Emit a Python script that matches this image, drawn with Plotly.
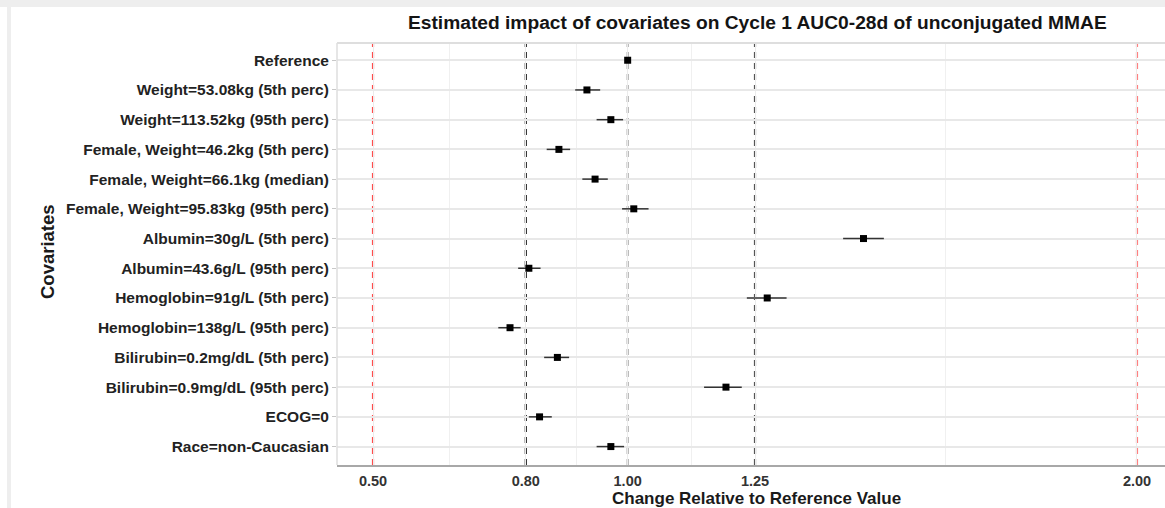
import plotly.graph_objects as go

# Covariate scenarios (top to bottom)
covariates = [
    "Reference",
    "Weight=53.08kg (5th perc)",
    "Weight=113.52kg (95th perc)",
    "Female, Weight=46.2kg (5th perc)",
    "Female, Weight=66.1kg (median)",
    "Female, Weight=95.83kg (95th perc)",
    "Albumin=30g/L (5th perc)",
    "Albumin=43.6g/L (95th perc)",
    "Hemoglobin=91g/L (5th perc)",
    "Hemoglobin=138g/L (95th perc)",
    "Bilirubin=0.2mg/dL (5th perc)",
    "Bilirubin=0.9mg/dL (95th perc)",
    "ECOG=0",
    "Race=non-Caucasian",
]

# Ratio to reference (median) and uncertainty interval
ratio_median = [1.000, 0.920, 0.967, 0.865, 0.936, 1.012, 1.463, 0.806,
                1.274, 0.769, 0.862, 1.193, 0.827, 0.967]
ratio_lower = [1.000, 0.897, 0.939, 0.841, 0.911, 0.989, 1.423, 0.785,
               1.234, 0.746, 0.836, 1.150, 0.806, 0.939]
ratio_upper = [1.000, 0.946, 0.991, 0.887, 0.961, 1.041, 1.503, 0.829,
               1.312, 0.790, 0.885, 1.224, 0.851, 0.993]

# Reference lines and axis breaks
ref_values = [0.50, 0.80, 1.00, 1.25, 2.00]
ref_colors = ["#ff4d4d", "#222222", "#a8a8a8", "#555555", "#ff8080"]
tick_values = [0.50, 0.80, 1.00, 1.25, 2.00]
tick_labels = ["0.50", "0.80", "1.00", "1.25", "2.00"]
minor_values = [0.65, 0.90, 1.125, 1.625]

W, H = 1165, 508
L, R, T, B = 337, 0, 43, 43
pw, ph = W - L - R, H - T - B

def px_x(p):
    return (p - L) / pw

def px_y(q):
    return (H - B - q) / ph

err_plus = [u - m for u, m in zip(ratio_upper, ratio_median)]
err_minus = [m - l for m, l in zip(ratio_median, ratio_lower)]

fig = go.Figure()
fig.add_trace(go.Scatter(
    x=ratio_median, y=covariates, mode="markers",
    marker=dict(symbol="square", size=7, color="black"),
    error_x=dict(type="data", symmetric=False, array=err_plus,
                 arrayminus=err_minus, color="#333333", thickness=1.5, width=0),
    showlegend=False, hoverinfo="x+y",
))

shapes = []
for v, c in zip(ref_values, ref_colors):
    shapes.append(dict(type="line", xref="x", yref="paper", x0=v, x1=v, y0=0, y1=1,
                       line=dict(color=c, width=2.2, dash="6px,5px"), layer="below"))
# panel top / left border
shapes.append(dict(type="line", xref="paper", yref="paper", x0=0, x1=1, y0=1, y1=1,
                   line=dict(color="#dedede", width=2)))
shapes.append(dict(type="line", xref="paper", yref="paper", x0=0, x1=0, y0=0, y1=1,
                   line=dict(color="#dedede", width=1.5)))
# light grey page strips
shapes.append(dict(type="rect", xref="paper", yref="paper",
                   x0=px_x(0), x1=px_x(W), y0=px_y(7), y1=px_y(0),
                   fillcolor="#eeeeee", line=dict(width=0), layer="below"))
shapes.append(dict(type="rect", xref="paper", yref="paper",
                   x0=px_x(7), x1=px_x(11), y0=px_y(H), y1=px_y(7),
                   fillcolor="#eeeeee", line=dict(width=0), layer="below"))

font_bold = "Liberation Sans, Arial, sans-serif"

fig.update_layout(
    width=W, height=H,
    margin=dict(l=L, r=R, t=T, b=B, pad=0),
    paper_bgcolor="white", plot_bgcolor="white",
    shapes=shapes,
    font=dict(family=font_bold, color="#1a1a1a"),
    annotations=[
        dict(text="<b>Estimated impact of covariates on Cycle 1 AUC0-28d of unconjugated MMAE</b>",
             xref="paper", yref="paper", x=px_x(757), y=px_y(22), xanchor="center",
             yanchor="middle", showarrow=False, font=dict(size=19.2, color="#141414")),
        dict(text="<b>Change Relative to Reference Value</b>",
             xref="paper", yref="paper", x=px_x(756), y=px_y(498.5), xanchor="center",
             yanchor="middle", showarrow=False, font=dict(size=17, color="#1a1a1a")),
        dict(text="<b>Covariates</b>", textangle=-90,
             xref="paper", yref="paper", x=px_x(48), y=px_y(252), xanchor="center",
             yanchor="middle", showarrow=False, font=dict(size=18.5, color="#1a1a1a")),
    ],
    xaxis=dict(
        range=[0.4293, 2.055], tickmode="array", tickvals=tick_values,
        ticktext=[f"<b>{t}</b>" for t in tick_labels],
        tickfont=dict(size=14.5, color="#333333"),
        showgrid=True, gridcolor="#ebebeb", gridwidth=1.2,
        minor=dict(tickmode="array", tickvals=minor_values, showgrid=True,
                   gridcolor="#f0f0f0", gridwidth=1),
        showline=True, linecolor="#a8a8a8", linewidth=2,
        ticks="", ticklabelstandoff=2,
        zeroline=False, fixedrange=True,
    ),
    yaxis=dict(
        type="category", categoryorder="array", categoryarray=covariates,
        range=[13.62, -0.58],
        tickmode="array", tickvals=covariates,
        ticktext=[f"<b>{c}</b>" for c in covariates],
        tickfont=dict(size=15.5, color="#222222"),
        showgrid=True, gridcolor="#e8e8e8", gridwidth=1.6,
        ticks="outside", ticklen=4, tickcolor="#c8c8c8",
        showline=False, zeroline=False, fixedrange=True,
    ),
)

fig.write_html("out.html")
